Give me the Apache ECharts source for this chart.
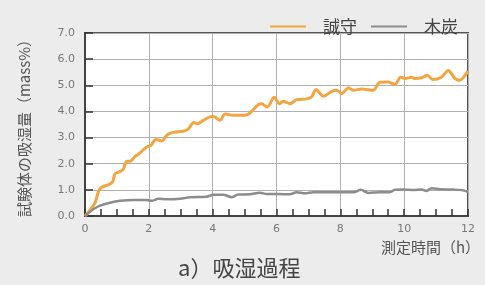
<!DOCTYPE html>
<html>
<head>
<meta charset="utf-8">
<script src="https://cdn.jsdelivr.net/npm/echarts@6/dist/echarts.min.js"></script>
<style>
html, body { margin: 0; padding: 0; background: #ececec; }
#chart { width: 485px; height: 285px; }
</style>
</head>
<body>
<div id="chart"></div>
<script>
// 誠守 [時間(h), 吸湿量(mass%)]
var seishuData = [
 [0, 0], [0.31, 0.49], [0.42, 0.93], [0.52, 1.10], [0.78, 1.22], [0.87, 1.32],
 [0.94, 1.61], [1.10, 1.70], [1.20, 1.79], [1.31, 2.09], [1.41, 2.09], [1.57, 2.28],
 [1.72, 2.41], [1.93, 2.64], [2.06, 2.69], [2.22, 2.93], [2.40, 2.87], [2.58, 3.11],
 [2.77, 3.20], [3.08, 3.24], [3.24, 3.33], [3.41, 3.58], [3.52, 3.53], [3.71, 3.66],
 [3.97, 3.81], [4.07, 3.79], [4.23, 3.66], [4.39, 3.90], [4.65, 3.85], [5.01, 3.85],
 [5.17, 3.94], [5.43, 4.26], [5.53, 4.29], [5.71, 4.17], [5.93, 4.54], [6.09, 4.29],
 [6.21, 4.39], [6.42, 4.29], [6.63, 4.45], [6.95, 4.48], [7.10, 4.56], [7.24, 4.84],
 [7.47, 4.58], [7.73, 4.77], [7.88, 4.81], [8.04, 4.68], [8.25, 4.90], [8.41, 4.81],
 [8.67, 4.86], [9.03, 4.81], [9.24, 5.12], [9.50, 5.13], [9.71, 5.03], [9.89, 5.31],
 [10.03, 5.26], [10.23, 5.31], [10.34, 5.26], [10.55, 5.29], [10.73, 5.38], [10.89, 5.22],
 [11.17, 5.31], [11.38, 5.57], [11.59, 5.26], [11.73, 5.19], [12.0, 5.54]
];
// 木炭
var mokutanData = [
 [0, 0], [0.26, 0.26], [0.47, 0.40], [0.78, 0.51], [1.10, 0.58], [1.51, 0.61],
 [1.93, 0.61], [2.09, 0.58], [2.30, 0.66], [2.56, 0.64], [2.98, 0.66], [3.29, 0.72],
 [3.81, 0.74], [4.02, 0.81], [4.33, 0.81], [4.60, 0.72], [4.80, 0.82], [5.17, 0.83],
 [5.48, 0.89], [5.69, 0.84], [6.06, 0.84], [6.42, 0.83], [6.63, 0.91], [6.89, 0.87],
 [7.15, 0.91], [7.88, 0.91], [8.41, 0.91], [8.64, 1.00], [8.88, 0.88], [9.24, 0.91],
 [9.55, 0.91], [9.71, 1.00], [9.97, 1.01], [10.29, 0.99], [10.55, 1.01], [10.70, 0.96],
 [10.86, 1.06], [11.12, 1.02], [11.54, 1.01], [11.80, 0.99], [12.0, 0.93]
];
var seriesNames = ['誠守', '木炭'];
var xTicks = [0, 2, 4, 6, 8, 10, 12];
var yTicks = [0, 1, 2, 3, 4, 5, 6, 7];

var myChart = echarts.init(document.getElementById('chart'));

var labelFont = 'DejaVu Sans';
var jpFont = '"Noto Sans CJK JP"';

var option = {
  backgroundColor: '#ececec',
  animation: false,
  grid: {
    left: 85, right: 17, top: 33, bottom: 69,
    show: true,
    backgroundColor: '#ffffff',
    borderColor: '#555555',
    borderWidth: 2
  },
  legend: {
    right: 22, top: 13,
    itemWidth: 36, itemHeight: 2, itemGap: 14,
    icon: 'rect',
    data: seriesNames,
    textStyle: { fontFamily: jpFont, fontSize: 17, color: '#444', padding: [0, 0, 0, 12] }
  },
  xAxis: {
    type: 'value',
    min: xTicks[0], max: xTicks[xTicks.length - 1], interval: 2,
    axisLine: { show: true, lineStyle: { color: '#444', width: 2 } },
    axisTick: { show: true, inside: true, length: 7, lineStyle: { color: '#333', width: 1.5 } },
    minorTick: { show: true, splitNumber: 4, length: 7, lineStyle: { color: '#333', width: 1.5 } },
    axisLabel: { color: '#777', fontFamily: labelFont, fontSize: 11, margin: 8 },
    splitLine: { show: true, lineStyle: { color: '#b0b0b0', width: 1 } }
  },
  yAxis: {
    type: 'value',
    min: yTicks[0], max: yTicks[yTicks.length - 1], interval: 1,
    name: '試験体の吸湿量（mass%）',
    nameLocation: 'middle',
    nameGap: 53,
    nameTextStyle: { fontFamily: jpFont, fontSize: 15, color: '#555' },
    axisLine: { show: true, lineStyle: { color: '#444', width: 2 } },
    axisTick: { show: true, inside: true, length: 8, lineStyle: { color: '#333', width: 1.5 } },
    axisLabel: {
      color: '#777', fontFamily: labelFont, fontSize: 11, margin: 10,
      formatter: function (v) { return v.toFixed(1); }
    },
    splitLine: { show: true, lineStyle: { color: '#b0b0b0', width: 1 } }
  },
  graphic: [
    {
      type: 'text', right: 5, top: 240,
      style: { text: '測定時間（h）', fontFamily: jpFont, fontSize: 15, fill: '#555' }
    },
    {
      type: 'text', left: 178, top: 257,
      style: { text: 'a）吸湿過程', fontFamily: jpFont, fontSize: 22, fill: '#444' }
    }
  ],
  series: [
    {
      name: seriesNames[0], type: 'line', data: seishuData,
      showSymbol: false, smooth: 0.3,
      lineStyle: { color: '#f2a541', width: 3 },
      itemStyle: { color: '#f2a541' }
    },
    {
      name: seriesNames[1], type: 'line', data: mokutanData,
      showSymbol: false, smooth: 0.3,
      lineStyle: { color: '#8c8c8c', width: 2.5 },
      itemStyle: { color: '#8c8c8c' }
    }
  ]
};

myChart.setOption(option);
</script>
</body>
</html>
